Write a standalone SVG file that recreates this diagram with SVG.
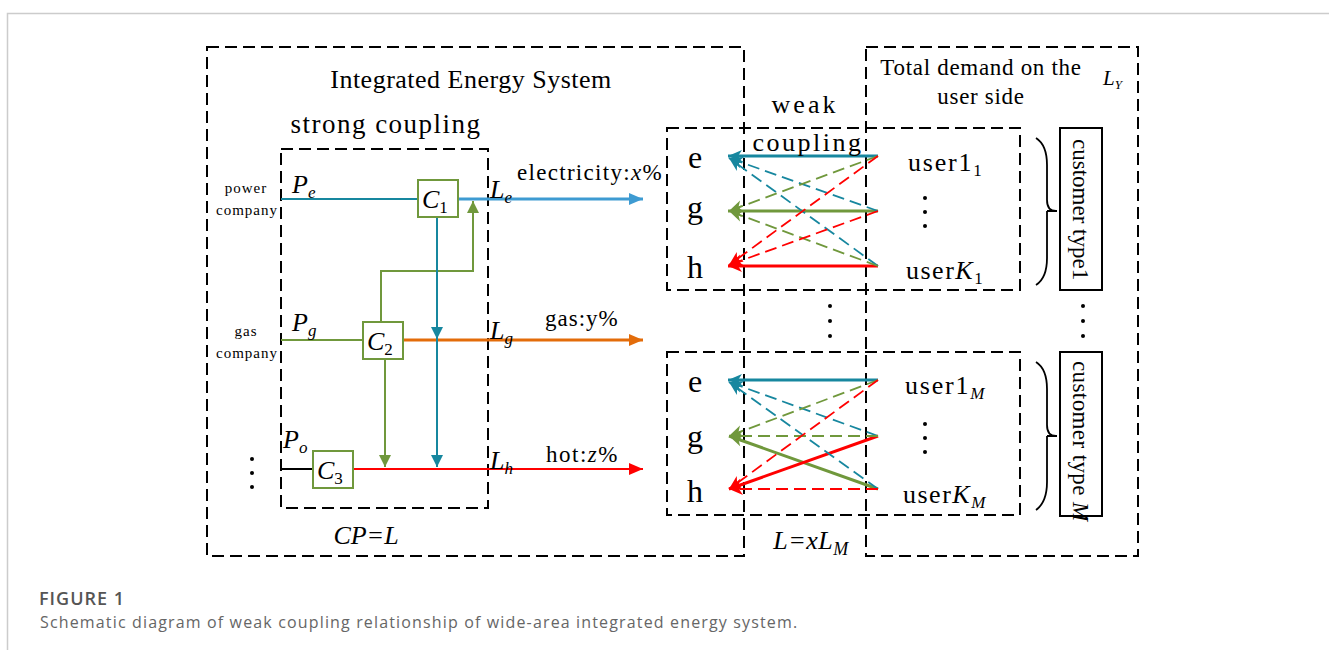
<svg xmlns="http://www.w3.org/2000/svg" width="1329" height="650" viewBox="0 0 1329 650">
<style>
.t{font-family:"Liberation Serif","Times New Roman",serif;fill:#000}
.i{font-style:italic}
.n{font-style:normal}
.box{fill:none;stroke:#000;stroke-width:2;stroke-dasharray:12 6}
.cb{fill:#fff;stroke:#70983c;stroke-width:2}
.cap{font-family:"Open Sans","Liberation Sans",sans-serif}
</style>
<defs>
<marker id="aB" markerUnits="userSpaceOnUse" markerWidth="16" markerHeight="14" refX="14" refY="7" orient="auto"><path d="M0,1 L14,7 L0,13 Z" fill="#3e9bd2"/></marker>
<marker id="aO" markerUnits="userSpaceOnUse" markerWidth="16" markerHeight="14" refX="14" refY="7" orient="auto"><path d="M0,1 L14,7 L0,13 Z" fill="#e36c0a"/></marker>
<marker id="aR" markerUnits="userSpaceOnUse" markerWidth="16" markerHeight="14" refX="14" refY="7" orient="auto"><path d="M0,1 L14,7 L0,13 Z" fill="#ff0000"/></marker>
<marker id="sT" markerUnits="userSpaceOnUse" markerWidth="14" markerHeight="14" refX="12" refY="6" orient="auto"><path d="M0,0 L12,6 L0,12 Z" fill="#17879f"/></marker>
<marker id="sG" markerUnits="userSpaceOnUse" markerWidth="14" markerHeight="14" refX="12" refY="6" orient="auto"><path d="M0,0 L12,6 L0,12 Z" fill="#70983c"/></marker>
<marker id="mT" markerUnits="userSpaceOnUse" markerWidth="16" markerHeight="14" refX="15" refY="7" orient="auto"><path d="M1,1 L15,7 L1,13 L5,7 Z" fill="#17879f"/></marker>
<marker id="mG" markerUnits="userSpaceOnUse" markerWidth="16" markerHeight="14" refX="15" refY="7" orient="auto"><path d="M1,1 L15,7 L1,13 L5,7 Z" fill="#70983c"/></marker>
<marker id="mR" markerUnits="userSpaceOnUse" markerWidth="16" markerHeight="14" refX="15" refY="7" orient="auto"><path d="M1,1 L15,7 L1,13 L5,7 Z" fill="#ff0000"/></marker>
</defs>
<rect width="1329" height="650" fill="#fff"/>
<path d="M7.5,650 V13.5 H1329" fill="none" stroke="#cccccc" stroke-width="1.5"/>

<g id="frames">
<rect class="box" x="207" y="47" width="537" height="509"/>
<rect class="box" x="281" y="149" width="207" height="359"/>
<rect class="box" x="866" y="47" width="272" height="509"/>
<rect class="box" x="667" y="128" width="353" height="162"/>
<rect class="box" x="667" y="352" width="353" height="163"/>
</g>

<g id="connectors" fill="none">
<path d="M281,199 H418" stroke="#17879f" stroke-width="2"/>
<path d="M458,199 H643" stroke="#3e9bd2" stroke-width="3" marker-end="url(#aB)"/>
<path d="M281,340 H363" stroke="#70983c" stroke-width="2"/>
<path d="M403,340 H643" stroke="#e36c0a" stroke-width="3" marker-end="url(#aO)"/>
<path d="M281,469 H313" stroke="#000" stroke-width="2"/>
<path d="M353,469 H643" stroke="#ff0000" stroke-width="2" marker-end="url(#aR)"/>
<path d="M381,322 V271 H473 V201" stroke="#70983c" stroke-width="2" marker-end="url(#sG)"/>
<path d="M385,359 V467" stroke="#70983c" stroke-width="2" marker-end="url(#sG)"/>
<path d="M437,217 V339" stroke="#17879f" stroke-width="2" marker-end="url(#sT)"/>
<path d="M437,339 V467" stroke="#17879f" stroke-width="2" marker-end="url(#sT)"/>

<g stroke-width="3">
<path d="M878,156 H728" stroke="#17879f" marker-end="url(#mT)"/>
<path d="M878,211 H728" stroke="#70983c" marker-end="url(#mG)"/>
<path d="M878,266 H728" stroke="#ff0000" marker-end="url(#mR)"/>
</g>
<g stroke-width="1.8" stroke-dasharray="12 6">
<path d="M878,211 L729,158" stroke="#17879f" marker-end="url(#mT)"/>
<path d="M878,266 L729,158" stroke="#17879f" marker-end="url(#mT)"/>
<path d="M878,156 L729,211" stroke="#70983c" marker-end="url(#mG)"/>
<path d="M878,266 L729,211" stroke="#70983c" marker-end="url(#mG)"/>
<path d="M878,156 L729,265" stroke="#ff0000" marker-end="url(#mR)"/>
<path d="M878,211 L729,265" stroke="#ff0000" marker-end="url(#mR)"/>
</g>

<g stroke-width="3">
<path d="M878,380 H728" stroke="#17879f" marker-end="url(#mT)"/>
<path d="M878,489 L729,436" stroke="#70983c" marker-end="url(#mG)"/>
<path d="M878,436 L729,489" stroke="#ff0000" marker-end="url(#mR)"/>
</g>
<g stroke-width="1.8" stroke-dasharray="12 6">
<path d="M878,436 L729,382" stroke="#17879f" marker-end="url(#mT)"/>
<path d="M878,489 L729,382" stroke="#17879f" marker-end="url(#mT)"/>
<path d="M878,380 L729,436" stroke="#70983c" marker-end="url(#mG)"/>
<path d="M878,436 H729" stroke="#70983c" marker-end="url(#mG)"/>
<path d="M878,380 L729,489" stroke="#ff0000" marker-end="url(#mR)"/>
<path d="M878,489 H729" stroke="#ff0000" marker-end="url(#mR)"/>
</g>
</g>

<g id="labels">
<text class="t" x="471" y="88" font-size="26" letter-spacing="0.5" text-anchor="middle">Integrated Energy System</text>
<text class="t" x="386" y="133" font-size="27" letter-spacing="1.5" text-anchor="middle">strong coupling</text>
<text class="t" x="246" y="193" font-size="15" letter-spacing="1" text-anchor="middle">power</text>
<text class="t" x="247" y="215" font-size="15" letter-spacing="1" text-anchor="middle">company</text>
<text class="t" x="246" y="336" font-size="15" letter-spacing="1" text-anchor="middle">gas</text>
<text class="t" x="247" y="358" font-size="15" letter-spacing="1" text-anchor="middle">company</text>
<text class="t i" x="292" y="193" font-size="26">P<tspan font-size="17" dy="5">e</tspan></text>
<text class="t i" x="292" y="331" font-size="26">P<tspan font-size="17" dy="5">g</tspan></text>
<text class="t i" x="283" y="448" font-size="26">P<tspan font-size="17" dy="5">o</tspan></text>
<text class="t i" x="490" y="198" font-size="26">L<tspan font-size="17" dy="5">e</tspan></text>
<text class="t i" x="490" y="339" font-size="26">L<tspan font-size="17" dy="5">g</tspan></text>
<text class="t i" x="490" y="469" font-size="26">L<tspan font-size="17" dy="5">h</tspan></text>
<text class="t" x="517" y="180" font-size="23" letter-spacing="1.3">electricity:<tspan class="i">x</tspan>%</text>
<text class="t" x="545" y="326" font-size="23" letter-spacing="1">gas:y%</text>
<text class="t" x="546" y="462" font-size="23" letter-spacing="1.5">hot:<tspan class="i">z</tspan>%</text>
<text class="t i" x="366" y="544" font-size="26" text-anchor="middle">CP=L</text>
<g fill="#000"><circle cx="252" cy="459" r="2"/><circle cx="252" cy="473" r="2"/><circle cx="252" cy="487" r="2"/></g>
<text class="t" x="805" y="113" font-size="26" letter-spacing="3" text-anchor="middle">weak</text>
<text class="t" x="808" y="151" font-size="26" letter-spacing="2.5" text-anchor="middle">coupling</text>
<text class="t" x="981" y="75" font-size="23" letter-spacing="0.7" text-anchor="middle">Total demand on the</text>
<text class="t" x="981" y="104" font-size="23" letter-spacing="0.7" text-anchor="middle">user side</text>
<text class="t i" x="1103" y="85" font-size="21">L<tspan font-size="13" dy="4">Y</tspan></text>
<text class="t i" x="811" y="549" font-size="26" letter-spacing="0.5" text-anchor="middle">L=xL<tspan font-size="18" dy="6">M</tspan></text>
<g fill="#000"><circle cx="830" cy="306" r="2"/><circle cx="830" cy="321" r="2"/><circle cx="830" cy="336" r="2"/>
<circle cx="1083" cy="306" r="2"/><circle cx="1083" cy="321" r="2"/><circle cx="1083" cy="336" r="2"/></g>
</g>

<g id="C1"><rect class="cb" x="418" y="180" width="40" height="37"/><text class="t i" x="422" y="208" font-size="26">C<tspan class="n" font-size="17" dy="5">1</tspan></text></g>
<g id="C2"><rect class="cb" x="363" y="322" width="40" height="37"/><text class="t i" x="367" y="350" font-size="26">C<tspan class="n" font-size="17" dy="5">2</tspan></text></g>
<g id="C3"><rect class="cb" x="313" y="451" width="40" height="37"/><text class="t i" x="317" y="479" font-size="26">C<tspan class="n" font-size="17" dy="5">3</tspan></text></g>

<g id="group1">
<text class="t" x="695" y="168" font-size="32" text-anchor="middle">e</text>
<text class="t" x="695" y="218" font-size="32" text-anchor="middle">g</text>
<text class="t" x="695" y="278" font-size="32" text-anchor="middle">h</text>
<text class="t" x="908" y="171" font-size="26" letter-spacing="1.8">user1<tspan font-size="17" dy="5">1</tspan></text>
<g fill="#000"><circle cx="925" cy="198" r="2"/><circle cx="925" cy="212" r="2"/><circle cx="925" cy="226" r="2"/></g>
<text class="t" x="906" y="279" font-size="26" letter-spacing="1.5">user<tspan class="i">K</tspan><tspan font-size="17" dy="5">1</tspan></text>
<path d="M1036,138 Q1047,145 1047,165 V200 Q1047,211 1056,211 M1047,211 V258 Q1047,278 1036,285 M1047,211 H1057" fill="none" stroke="#000" stroke-width="1.8"/>
<rect x="1060" y="128" width="42" height="162" fill="#fff" stroke="#000" stroke-width="2"/>
<text class="t" font-size="23" transform="translate(1073,139) rotate(90)">customer type1</text>
</g>

<g id="group2">
<text class="t" x="695" y="392" font-size="32" text-anchor="middle">e</text>
<text class="t" x="695" y="447" font-size="32" text-anchor="middle">g</text>
<text class="t" x="695" y="502" font-size="32" text-anchor="middle">h</text>
<text class="t" x="905" y="394" font-size="26" letter-spacing="1.8">user1<tspan class="i" font-size="17" dy="5">M</tspan></text>
<g fill="#000"><circle cx="925" cy="424" r="2"/><circle cx="925" cy="438" r="2"/><circle cx="925" cy="452" r="2"/></g>
<text class="t" x="903" y="503" font-size="26" letter-spacing="1.5">user<tspan class="i">K</tspan><tspan class="i" font-size="17" dy="5">M</tspan></text>
<path d="M1036,362 Q1047,369 1047,389 V425 Q1047,436 1056,436 M1047,436 V482 Q1047,502 1036,510 M1047,436 H1057" fill="none" stroke="#000" stroke-width="1.8"/>
<rect x="1060" y="352" width="42" height="164" fill="#fff" stroke="#000" stroke-width="2"/>
<text class="t" font-size="23" letter-spacing="0.4" transform="translate(1073,361) rotate(90)">customer type <tspan class="i">M</tspan></text>
</g>

<g id="caption">
<text class="cap" x="39" y="605" font-size="18" font-weight="600" letter-spacing="1" fill="#555">FIGURE 1</text>
<text class="cap" x="40" y="628" font-size="16" letter-spacing="1.15" fill="#666">Schematic diagram of weak coupling relationship of wide-area integrated energy system.</text>
</g>
</svg>
